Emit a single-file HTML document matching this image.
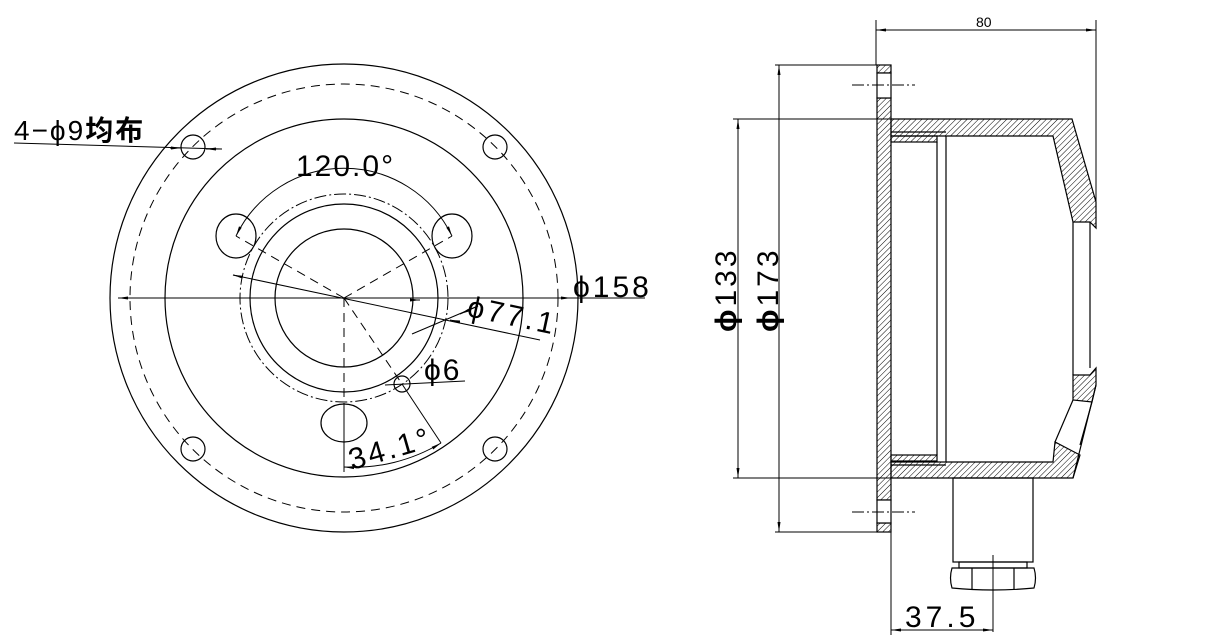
<!DOCTYPE html>
<html><head><meta charset="utf-8"><style>
html,body{margin:0;padding:0;background:#fff}
svg{display:block}
text{font-family:"Liberation Sans","Noto Sans CJK SC",sans-serif;fill:#000}
</style></head><body>
<svg width="1215" height="643" viewBox="0 0 1215 643" xmlns="http://www.w3.org/2000/svg">
<defs>
<pattern id="h" patternUnits="userSpaceOnUse" width="4" height="4" patternTransform="rotate(45)">
<line x1="0" y1="0" x2="0" y2="4" stroke="#000" stroke-width="1"/>
</pattern>
<marker id="a" markerWidth="10" markerHeight="6" refX="10" refY="3" orient="auto-start-reverse" markerUnits="userSpaceOnUse">
<path d="M0,1.5 L10,3 L0,4.5z" fill="#000"/>
</marker>
</defs>
<g fill="none" stroke="#000" stroke-width="1.2">
<circle cx="344" cy="298" r="234"/>
<circle cx="344" cy="298" r="214" stroke-dasharray="9,6" stroke-width="1"/>
<circle cx="344" cy="298" r="179"/>
<circle cx="344" cy="298" r="104" stroke-dasharray="12,3,2,3" stroke-width="1"/>
<circle cx="344" cy="298" r="94"/>
<circle cx="344" cy="298" r="69"/>
<circle cx="193" cy="147" r="12"/><circle cx="495" cy="147" r="12"/>
<circle cx="193" cy="449" r="12"/><circle cx="495" cy="449" r="12"/>
<ellipse cx="236" cy="236" rx="20" ry="22"/>
<ellipse cx="452" cy="236" rx="20" ry="22"/>
<ellipse cx="344" cy="423" rx="23" ry="19"/>
<circle cx="402" cy="384" r="8"/>
<g stroke-width="1" stroke-dasharray="9,6">
<line x1="344" y1="298" x2="236" y2="236"/>
<line x1="344" y1="298" x2="452" y2="236"/>
<line x1="344" y1="298" x2="344" y2="404"/>
<line x1="344" y1="298" x2="402" y2="384"/>
</g>
<line x1="344" y1="404" x2="344" y2="472" stroke-width="1"/>
<line x1="402" y1="384" x2="441" y2="443" stroke-width="1"/>
<path d="M344,467 A169,169 0 0 0 441,443" stroke-width="1" marker-start="url(#a)" marker-end="url(#a)"/>
<line x1="118" y1="298" x2="645" y2="298" stroke-width="1"/>
<line x1="130" y1="298" x2="118" y2="298" marker-end="url(#a)" stroke-width="1"/>
<line x1="560" y1="298" x2="571" y2="298" marker-end="url(#a)" stroke-width="1"/>
<line x1="233" y1="275" x2="540" y2="340" stroke-width="1"/>
<line x1="233" y1="275" x2="242" y2="277" marker-start="url(#a)" stroke-width="1"/>
<line x1="460" y1="322" x2="450" y2="320" marker-end="url(#a)" stroke-width="1"/>
<line x1="410" y1="300" x2="420" y2="300" marker-end="url(#a)" stroke-width="1"/>
<path d="M236,236 A120,120 0 0 1 452,236" stroke-width="1" marker-start="url(#a)" marker-end="url(#a)"/>
<line x1="412" y1="334" x2="478" y2="306" stroke-width="1"/>
<line x1="478" y1="306" x2="460" y2="314" marker-end="url(#a)" stroke-width="1"/>
<line x1="385" y1="385" x2="465" y2="381" stroke-width="1"/>
<line x1="14" y1="143" x2="222" y2="149" stroke-width="1"/>
<line x1="170" y1="148" x2="181" y2="148" marker-end="url(#a)" stroke-width="1"/>
<line x1="222" y1="149" x2="206" y2="149" marker-end="url(#a)" stroke-width="1"/>

<g fill="url(#h)">
<rect x="877" y="65" width="14" height="8"/>
<rect x="877" y="98" width="14" height="402"/>
<rect x="877" y="523" width="14" height="9"/>
<polygon points="891,119 1072,119 1096,202 1096,228 1090,222 1073,222 1053,136 891,136"/>
<rect x="891" y="136" width="46" height="6"/>
<polygon points="891,478 1073,478 1080,455 1055,442 1053,462 891,462"/>
<polygon points="1073,375 1090,375 1096,368 1096,385 1092,402 1073,400"/>
<rect x="891" y="455" width="46" height="6"/>
</g>
<rect x="877" y="73" width="14" height="25" fill="#fff"/>
<rect x="877" y="500" width="14" height="23" fill="#fff"/>
<line x1="891" y1="132" x2="946" y2="132"/>
<line x1="891" y1="465" x2="946" y2="465"/>
<line x1="937" y1="142" x2="937" y2="455"/><line x1="946" y1="136" x2="946" y2="462"/>
<line x1="1073" y1="222" x2="1073" y2="375"/><line x1="1090" y1="222" x2="1090" y2="368"/>
<line x1="1096" y1="385" x2="1073" y2="478"/>
<line x1="1092" y1="402" x2="1080" y2="445"/><line x1="1073" y1="400" x2="1055" y2="442"/>
<rect x="953" y="478" width="80" height="84"/>
<rect x="959" y="562" width="68" height="6"/>
<path d="M952,568 H1034 Q1037,578 1034,588 Q993,592 952,588 Q949,578 952,568z"/>
<line x1="972" y1="568" x2="972" y2="589"/><line x1="1014" y1="568" x2="1014" y2="589"/>
<line x1="993" y1="555" x2="993" y2="632" stroke-width="1"/>
<line x1="852" y1="85" x2="915" y2="85" stroke-width="1" stroke-dasharray="12,3,2,3"/>
<line x1="852" y1="512" x2="915" y2="512" stroke-width="1" stroke-dasharray="12,3,2,3"/>
<g stroke-width="1">
<line x1="876" y1="20" x2="876" y2="65"/><line x1="1096" y1="20" x2="1096" y2="202"/>
<line x1="876" y1="30" x2="1096" y2="30" marker-start="url(#a)" marker-end="url(#a)"/>
<line x1="891" y1="532" x2="891" y2="635"/>
<line x1="891" y1="630" x2="993" y2="630" marker-start="url(#a)" marker-end="url(#a)"/>
<line x1="733" y1="119" x2="891" y2="119"/><line x1="733" y1="478" x2="891" y2="478"/>
<line x1="775" y1="65" x2="877" y2="65"/><line x1="775" y1="532" x2="877" y2="532"/>
<line x1="738" y1="119" x2="738" y2="478" marker-start="url(#a)" marker-end="url(#a)"/>
<line x1="779" y1="65" x2="779" y2="532" marker-start="url(#a)" marker-end="url(#a)"/>
</g>
</g>
<g font-size="30" letter-spacing="2">
<text x="14" y="140" font-size="28">4−ϕ9<tspan font-weight="bold">均布</tspan></text>
<text x="296" y="176">120.0°</text>
<text x="573" y="297" letter-spacing="3">ϕ158</text>
<text transform="translate(466,316) rotate(12)" letter-spacing="3">ϕ77.1</text>
<text x="424" y="380">ϕ6</text>
<text transform="translate(352,470) rotate(-16)" letter-spacing="3">34.1°</text>
<text x="905" y="627" letter-spacing="4">37.5</text>
<text x="976" y="27" font-size="14" letter-spacing="0">80</text>
<text transform="translate(736,332) rotate(-90)" letter-spacing="3"><tspan font-weight="bold">ϕ</tspan>133</text>
<text transform="translate(778,332) rotate(-90)" letter-spacing="3"><tspan font-weight="bold">ϕ</tspan>173</text>
</g>
</svg>
</body></html>
